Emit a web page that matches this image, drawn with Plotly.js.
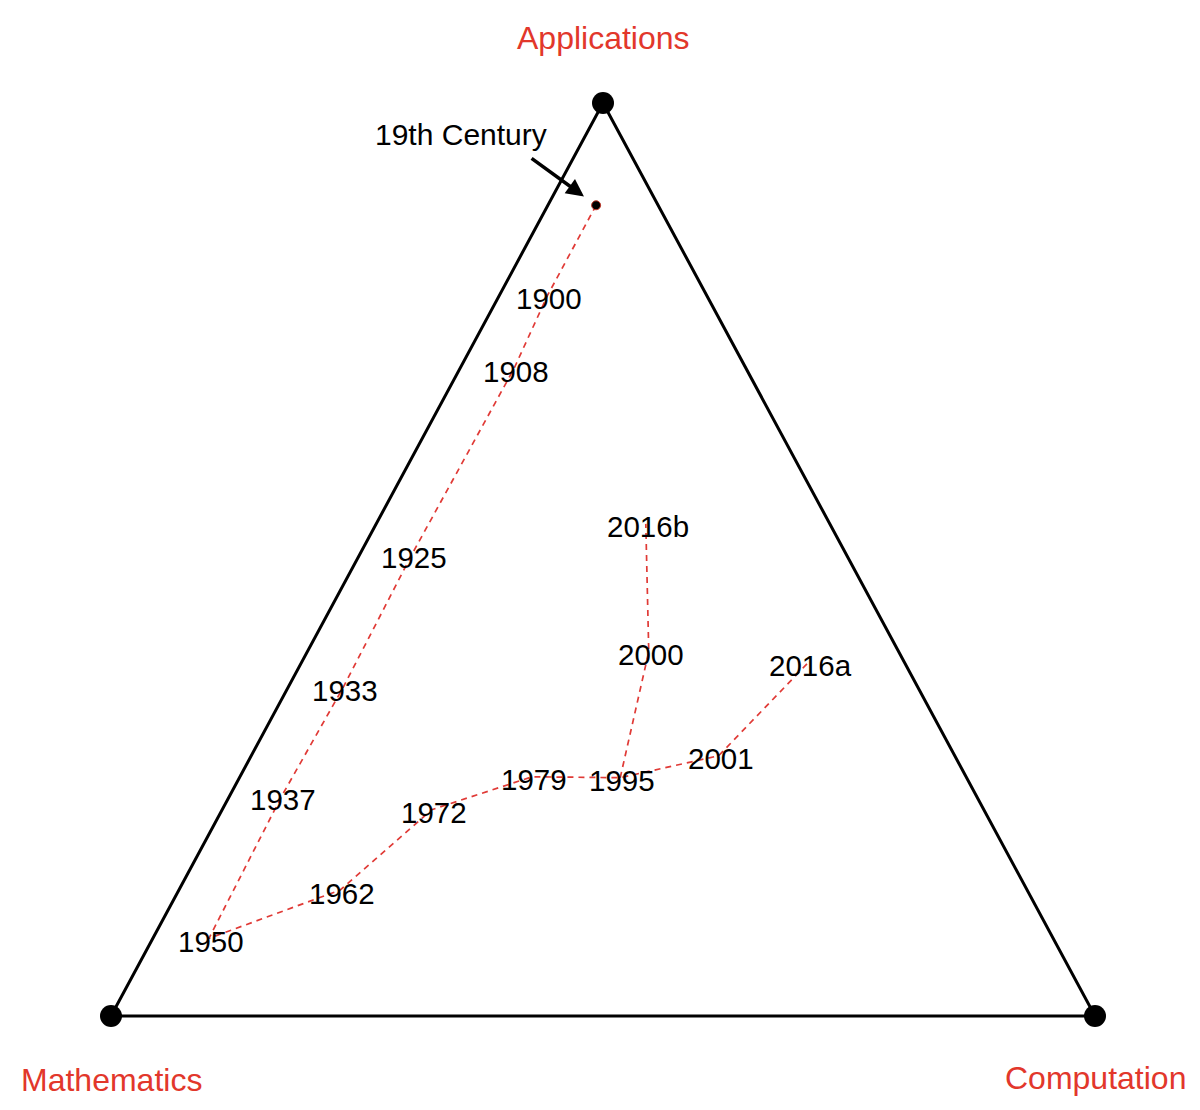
<!DOCTYPE html>
<html>
<head>
<meta charset="utf-8">
<script src="https://cdn.plot.ly/plotly-3.0.1.min.js"></script>
<style>html,body{margin:0;padding:0;background:#fff;}#chart{width:1200px;height:1110px;}</style>
</head>
<body>
<div id="chart"></div>
<script>
// Ternary compositions (fractions of Mathematics, Computation, Applications)
const labels       = ['19th Century','1900','1908','1925','1933','1937','1950','1962','1972','1979','1995','2001','2016a','2000','2016b'];
const mathematics  = [0.063,0.162,0.236,0.442,0.584,0.707,0.858,0.698,0.561,0.441,0.352,0.240,0.098,0.254,0.187];
const computation  = [0.049,0.049,0.055,0.053,0.056,0.053,0.057,0.164,0.213,0.297,0.387,0.475,0.515,0.347,0.274];
const applications = [0.888,0.789,0.709,0.505,0.360,0.240,0.085,0.138,0.226,0.262,0.261,0.285,0.387,0.399,0.539];

const mainPath   = ['19th Century','1900','1908','1925','1933','1937','1950','1962','1972','1979','1995','2001','2016a'];
const branchPath = ['1995','2000','2016b'];

const vertexNames = ['Mathematics','Computation','Applications'];

// ternary -> cartesian (Mathematics at (0,0), Computation at (1,0), Applications at (0.5,1))
function tx(i){ return computation[i] + applications[i]/2; }
function ty(i){ return applications[i]; }
function pathXY(path){
  const xs=[], ys=[];
  path.forEach(l=>{ const i=labels.indexOf(l); xs.push(tx(i)); ys.push(ty(i)); });
  return {x:xs,y:ys};
}
const vx = [0,1,0.5], vy = [0,0,1];

const font = 'Liberation Sans, Arial, Helvetica, sans-serif';
const red = '#e2372b';

const mp = pathXY(mainPath), bp = pathXY(branchPath);
const yearIdx = labels.map((l,i)=>i).filter(i=>labels[i] !== '19th Century');
const c19 = labels.indexOf('19th Century');

const traces = [
  {x:[vx[0],vx[1],vx[2],vx[0]], y:[vy[0],vy[1],vy[2],vy[0]], mode:'lines',
   line:{color:'#000',width:3}, hoverinfo:'skip'},
  {x:vx, y:vy, mode:'markers', marker:{color:'#000',size:22}, hoverinfo:'skip'},
  {x:mp.x, y:mp.y, mode:'lines', line:{color:'#e03a36',width:1.7,dash:'6px,5px'}, hoverinfo:'skip'},
  {x:bp.x, y:bp.y, mode:'lines', line:{color:'#e03a36',width:1.7,dash:'6px,5px'}, hoverinfo:'skip'},
  {x:[tx(c19)], y:[ty(c19)], mode:'markers', marker:{color:'#000',size:9,line:{color:'#c0392b',width:1}}, hoverinfo:'skip'}
];

const annotations = [
  {x:vx[2], y:vy[2], xref:'x', yref:'y', text:vertexNames[2], showarrow:false, yshift:65,
   font:{family:font,size:32,color:red}},
  {x:vx[0], y:vy[0], xref:'x', yref:'y', text:vertexNames[0], showarrow:false, yshift:-64,
   font:{family:font,size:32,color:red}},
  {x:vx[1], y:vy[1], xref:'x', yref:'y', text:vertexNames[1], showarrow:false, yshift:-62,
   font:{family:font,size:32,color:red}},
  {x:tx(c19), y:ty(c19), xref:'x', yref:'y', text:'', showarrow:true, ax:-66, ay:-48,
   arrowhead:2, arrowsize:1, arrowwidth:3.5, arrowcolor:'#000', standoff:15},
  {x:tx(c19), y:ty(c19), xref:'x', yref:'y', text:labels[c19], showarrow:false, xshift:-135, yshift:71,
   font:{family:font,size:30,color:'#000'}}
];
yearIdx.forEach(i=>{
  annotations.push({x:tx(i), y:ty(i), xref:'x', yref:'y', text:labels[i], showarrow:false,
    xshift:2, yshift:-3, font:{family:font,size:29.5,color:'#000'}});
});

const layout = {
  width:1200, height:1110,
  margin:{l:0,r:0,t:0,b:0},
  paper_bgcolor:'#fff', plot_bgcolor:'#fff',
  showlegend:false,
  xaxis:{range:[-111/984, 1089/984], visible:false, fixedrange:true},
  yaxis:{range:[-94/913, 1+103/913], visible:false, fixedrange:true},
  annotations:annotations
};

Plotly.newPlot('chart', traces, layout, {displayModeBar:false, staticPlot:true});
</script>
</body>
</html>
